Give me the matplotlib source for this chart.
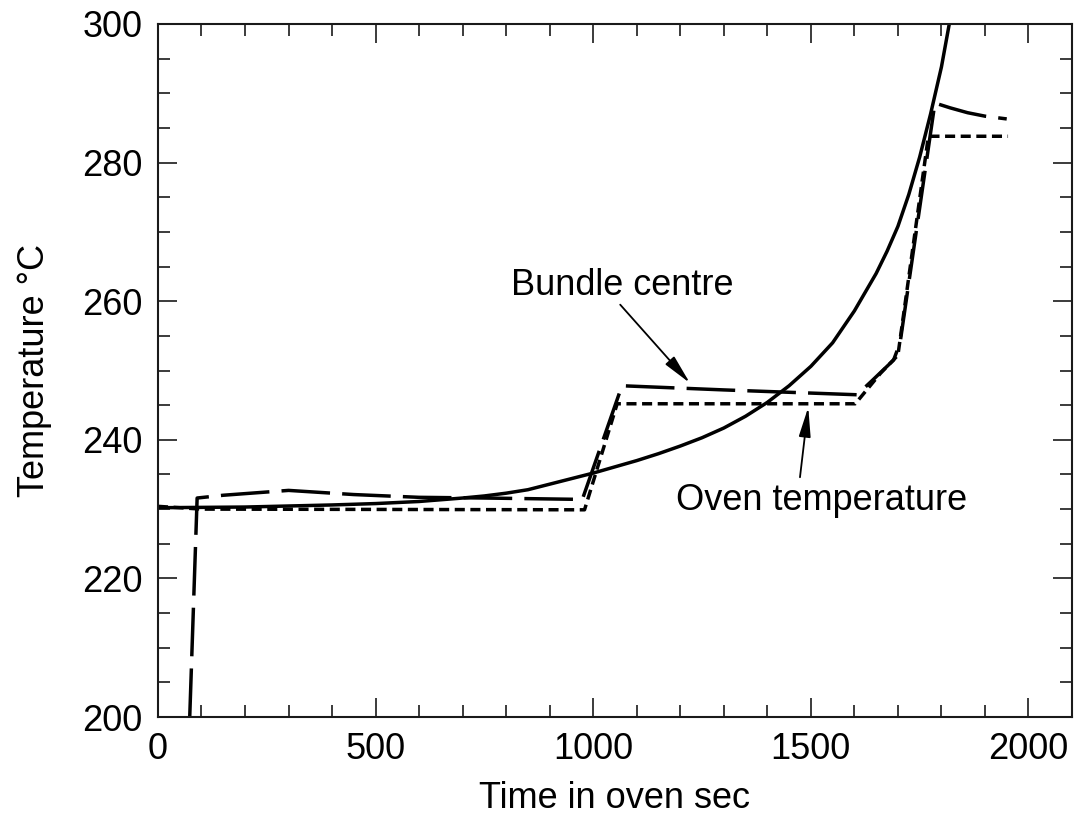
import numpy as np
import matplotlib
matplotlib.use("Agg")
import matplotlib.pyplot as plt

plt.rcParams['font.family'] = ['Liberation Sans', 'DejaVu Sans']

# solid curve (no label in the figure)
t_solid = [0, 200, 400, 500, 600, 700, 750, 800, 850, 900, 950, 1000, 1050,
           1100, 1150, 1200, 1250, 1300, 1350, 1400, 1450, 1500, 1550, 1600,
           1650, 1675, 1700, 1725, 1750, 1775, 1800, 1818]
T_solid = [230.2, 230.3, 230.6, 230.8, 231.1, 231.6, 231.9, 232.3, 232.8, 233.6,
           234.4, 235.2, 236.1, 237.0, 238.0, 239.1, 240.3, 241.7, 243.4, 245.4,
           247.8, 250.6, 254.0, 258.6, 264.0, 267.2, 270.8, 275.4, 280.8, 287.0,
           293.8, 300.0]

# bundle centre (long dashes)
t_bundle = [73, 90, 150, 300, 450, 600, 750, 975, 1066, 1300, 1475, 1606,
            1640, 1690, 1705, 1785, 1820, 1860, 1900, 1950]
T_bundle = [200.0, 231.6, 232.0, 232.7, 232.1, 231.7, 231.6, 231.4, 247.8, 247.2,
            246.8, 246.5, 248.5, 251.5, 254.0, 288.6, 287.9, 287.2, 286.7, 286.3]

# oven temperature (short dashes)
t_oven = [0, 100, 980, 1055, 1602, 1660, 1700, 1770, 1953]
T_oven = [230.4, 230.0, 229.9, 245.2, 245.2, 249.6, 252.2, 283.8, 283.8]

fig = plt.figure(figsize=(10.76, 8.16), dpi=100)
ax = fig.add_axes([0.1468, 0.1213, 0.8495, 0.8493])

ax.plot(t_solid, T_solid, color='k', lw=2.5)
ax.plot(t_bundle, T_bundle, color='k', lw=2.5, dashes=[14, 3.5])
ax.plot(t_oven, T_oven, color='k', lw=2.5, dashes=[2.9, 1.6])

ax.set_xlim(0, 2100)
ax.set_ylim(200, 300)
ax.set_xticks(np.arange(0, 2001, 500))
ax.set_xticks(np.arange(0, 2101, 100), minor=True)
ax.set_yticks(np.arange(200, 301, 20))
ax.set_yticks(np.arange(200, 301, 5), minor=True)
ax.tick_params(which='both', direction='in', top=True, right=True,
               width=1.2, labelsize=26, color='#1a1a1a')
ax.tick_params(which='major', length=14, pad=11)
ax.tick_params(which='minor', length=8.5)
for s in ax.spines.values():
    s.set_linewidth(1.5)
    s.set_color('#1a1a1a')

ax.set_xlabel("Time in oven sec", fontsize=26, labelpad=10)
ax.set_ylabel("Temperature \u00b0C", fontsize=26, labelpad=22)

ax.text(1066, 262.3, "Bundle centre", fontsize=26, ha='center', va='center')
ax.text(1524, 231.3, "Oven temperature", fontsize=26, ha='center', va='center')

arrow = dict(arrowstyle='-|>,head_length=0.9,head_width=0.18', color='k',
             lw=1.3, mutation_scale=20, shrinkA=0, shrinkB=0)
ax.annotate("", xy=(1222, 248.2), xytext=(1062, 259.5), arrowprops=arrow)
ax.annotate("", xy=(1494, 244.7), xytext=(1475, 234.6), arrowprops=arrow)

plt.savefig("out.png", dpi=100)
plt.close()
